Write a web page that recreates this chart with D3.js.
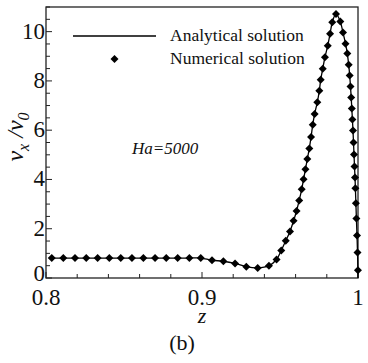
<!DOCTYPE html>
<html>
<head>
<meta charset="utf-8">
<script src="https://cdn.jsdelivr.net/npm/d3@7"></script>
<style>
  body { margin: 0; background: #fff; }
  svg, svg text { font-family: "Liberation Serif", "DejaVu Serif", "Times New Roman", Times, serif; }
</style>
</head>
<body>
<div id="chart"></div>
<script>
// numerical solution points (z, vx/v0)
const zValues = [
  0.8037, 0.8111, 0.8186, 0.8258, 0.8331, 0.8406, 0.8479, 0.8551, 0.8624, 0.8699,
  0.8771, 0.8844, 0.8919, 0.8992, 0.9064, 0.9137, 0.9212, 0.9284, 0.9357, 0.9429,
  0.9478, 0.9508, 0.9537, 0.9564, 0.9587, 0.9606, 0.9623, 0.9639, 0.9651, 0.9663,
  0.9675, 0.9688, 0.9699, 0.9710, 0.9722, 0.9739, 0.9752, 0.9761, 0.9774, 0.9788,
  0.9806, 0.9821, 0.9835, 0.9859,
  0.98865, 0.99038, 0.99199, 0.99314, 0.99404, 0.99468, 0.99519, 0.99564, 0.99603, 0.99641,
  0.99679, 0.99712, 0.99744, 0.99776, 0.99808, 0.99833, 0.99865, 0.99897, 0.99936, 0.99968,
  0.99995
];
const vValues = [
  0.81, 0.81, 0.81, 0.81, 0.81, 0.81, 0.81, 0.81, 0.81, 0.81,
  0.81, 0.81, 0.81, 0.81, 0.72, 0.68, 0.59, 0.46, 0.41, 0.50,
  0.75, 1.12, 1.51, 1.89, 2.32, 2.72, 3.15, 3.60, 4.01, 4.41,
  4.83, 5.26, 5.72, 6.22, 6.66, 7.13, 7.60, 8.05, 8.49, 8.96,
  9.43, 9.91, 10.38, 10.72,
  10.41, 9.96, 9.51, 9.11, 8.66, 8.22, 7.77, 7.33, 6.88, 6.43,
  5.99, 5.50, 5.01, 4.53, 4.08, 3.64, 3.03, 2.42, 1.73, 1.04,
  0.31
];
// analytical curve: same profile, closed at the wall
const zAnalytical = zValues.concat([1.0]);
const vAnalytical = vValues.concat([0.0]);

const xTicks = [0.8, 0.9, 1];
const yTicks = [0, 2, 4, 6, 8, 10];

const width = 368, height = 363;
const margin = {top: 7, right: 10, bottom: 85, left: 46};
const w = width - margin.left - margin.right;
const h = height - margin.top - margin.bottom;
const serif = '"Liberation Serif", "DejaVu Serif", "Times New Roman", serif';

const svg = d3.select("#chart").append("svg")
  .attr("width", width)
  .attr("height", height)
  .attr("font-family", serif);

const g = svg.append("g")
  .attr("transform", `translate(${margin.left},${margin.top})`);

const x = d3.scaleLinear().domain([0.8, 1.0]).range([0, w]);
const y = d3.scaleLinear().domain([0, 11]).range([h, 0]);

// minor + major ticks, pointing inward
const xMinor = d3.range(0.8, 1.0001, 0.02);
const yMinor = d3.range(0, 11.001, 0.5);

g.selectAll(".xminor").data(xMinor).join("line")
  .attr("x1", d => x(d)).attr("x2", d => x(d))
  .attr("y1", h).attr("y2", d => h - (xTicks.some(t => Math.abs(t - d) < 1e-6) ? 6 : 4))
  .attr("stroke", "#222").attr("stroke-width", 1);

g.selectAll(".yminor").data(yMinor).join("line")
  .attr("y1", d => y(d)).attr("y2", d => y(d))
  .attr("x1", 0).attr("x2", d => (d % 2 === 0 ? 6 : 4))
  .attr("stroke", "#222").attr("stroke-width", 1);

// frame
g.append("rect")
  .attr("x", 0).attr("y", 0).attr("width", w).attr("height", h)
  .attr("fill", "none").attr("stroke", "#222").attr("stroke-width", 1.3);

// tick labels
g.selectAll(".xlab").data(xTicks).join("text")
  .attr("x", d => x(d)).attr("y", h + 27)
  .attr("text-anchor", "middle")
  .style("font-family", serif)
  .style("font-size", "23px").style("fill", "#111")
  .text(d => d3.format("~g")(d));

g.selectAll(".ylab").data(yTicks).join("text")
  .attr("x", -1).attr("y", d => y(d) + (d === 0 ? 3 : 7))
  .attr("text-anchor", "end")
  .style("font-family", serif)
  .style("font-size", "23px").style("fill", "#111")
  .text(d => d);

// analytical line
const line = d3.line()
  .x((d, i) => x(zAnalytical[i]))
  .y(d => y(d))
  .curve(d3.curveCatmullRom);

g.append("path")
  .datum(vAnalytical)
  .attr("d", line)
  .attr("fill", "none")
  .attr("stroke", "#000")
  .attr("stroke-width", 1.3);

// numerical markers (diamonds)
const diamond = d3.symbol().type(d3.symbolSquare).size(32);
g.selectAll(".pt").data(vValues).join("path")
  .attr("d", diamond)
  .attr("transform", (d, i) => `translate(${x(zValues[i])},${y(d)}) rotate(45)`)
  .attr("fill", "#000");

// legend
const legend = svg.append("g");
legend.append("line")
  .attr("x1", 73).attr("x2", 156).attr("y1", 36).attr("y2", 36)
  .attr("stroke", "#000").attr("stroke-width", 1.3);
legend.append("text")
  .attr("x", 170).attr("y", 41)
  .style("font-family", serif)
  .style("font-size", "17.5px").style("fill", "#111")
  .text("Analytical solution");
legend.append("path")
  .attr("d", diamond)
  .attr("transform", "translate(114.5,59) rotate(45)")
  .attr("fill", "#000");
legend.append("text")
  .attr("x", 170).attr("y", 64)
  .style("font-family", serif)
  .style("font-size", "17.5px").style("fill", "#111")
  .text("Numerical solution");

// annotation
svg.append("text")
  .attr("x", 132).attr("y", 154)
  .style("font-family", serif)
  .style("font-size", "17px").style("font-style", "italic").style("fill", "#111")
  .text("Ha=5000");

// axis titles
svg.append("text")
  .attr("x", margin.left + x(0.9)).attr("y", 323)
  .attr("text-anchor", "middle")
  .style("font-family", serif)
  .style("font-size", "22px").style("font-style", "italic").style("fill", "#111")
  .text("z");

const yTitle = svg.append("text")
  .attr("transform", "translate(23,137) rotate(-90)")
  .attr("text-anchor", "middle")
  .style("font-family", serif)
  .style("font-size", "24px").style("font-style", "italic").style("fill", "#111");
yTitle.append("tspan").text("v");
yTitle.append("tspan").attr("dy", 6).style("font-size", "16px").text("x");
yTitle.append("tspan").attr("dy", -6).text(" /v");
yTitle.append("tspan").attr("dy", 6).style("font-size", "16px").text("0");

svg.append("text")
  .attr("x", 182).attr("y", 350)
  .attr("text-anchor", "middle")
  .style("font-family", serif)
  .style("font-size", "22px").style("fill", "#111")
  .text("(b)");
</script>
</body>
</html>
